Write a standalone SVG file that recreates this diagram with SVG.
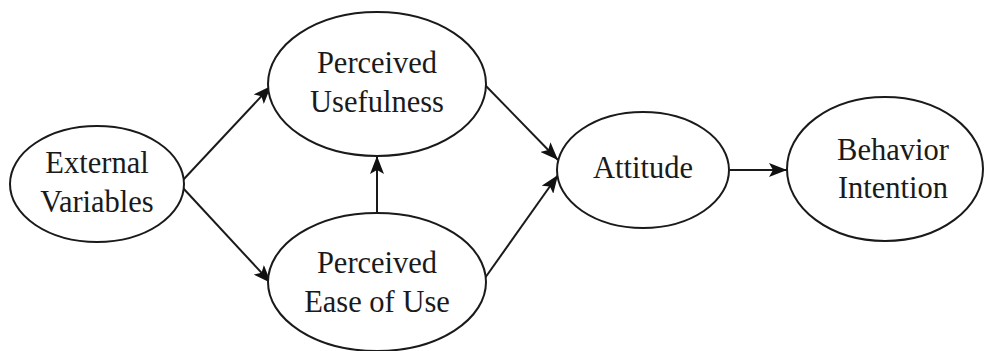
<svg xmlns="http://www.w3.org/2000/svg" width="990" height="351" viewBox="0 0 990 351">
<style>
.node ellipse{fill:#fff;stroke:#1a1a1a;stroke-width:2}
.node text{font-family:"Liberation Serif","Times New Roman",serif;font-size:30.5px;fill:#1a1a1a;text-anchor:middle}
.edges line{stroke:#1a1a1a;stroke-width:2;marker-end:url(#arr)}
</style>
<defs>
<marker id="arr" viewBox="0 0 18 14" refX="18" refY="7" markerWidth="18" markerHeight="14" markerUnits="userSpaceOnUse" orient="auto">
<path d="M0,0 L18,7 L0,14 L4,7 Z" fill="#111"/>
</marker>
</defs>
<rect width="990" height="351" fill="#fff"/>
<g class="edges">
<line x1="183" y1="180" x2="271" y2="86"/>
<line x1="183" y1="188" x2="271" y2="283"/>
<line x1="377" y1="213" x2="377" y2="156"/>
<line x1="485" y1="85" x2="558" y2="160"/>
<line x1="485" y1="278" x2="558" y2="175"/>
<line x1="730" y1="170" x2="787" y2="170"/>
</g>
<g id="external" class="node">
<ellipse cx="97" cy="184" rx="87" ry="58"/>
<text x="97" y="173">External</text>
<text x="97" y="212">Variables</text>
</g>
<g id="usefulness" class="node">
<ellipse cx="377" cy="84" rx="109" ry="72"/>
<text x="377" y="73">Perceived</text>
<text x="377" y="112">Usefulness</text>
</g>
<g id="ease" class="node">
<ellipse cx="377" cy="282" rx="109" ry="69"/>
<text x="377" y="273">Perceived</text>
<text x="377" y="312">Ease of Use</text>
</g>
<g id="attitude" class="node">
<ellipse cx="643" cy="170" rx="86" ry="58"/>
<text x="643" y="178">Attitude</text>
</g>
<g id="behavior" class="node">
<ellipse cx="885" cy="169" rx="98" ry="72"/>
<text x="893" y="160">Behavior</text>
<text x="893" y="198">Intention</text>
</g>
</svg>
